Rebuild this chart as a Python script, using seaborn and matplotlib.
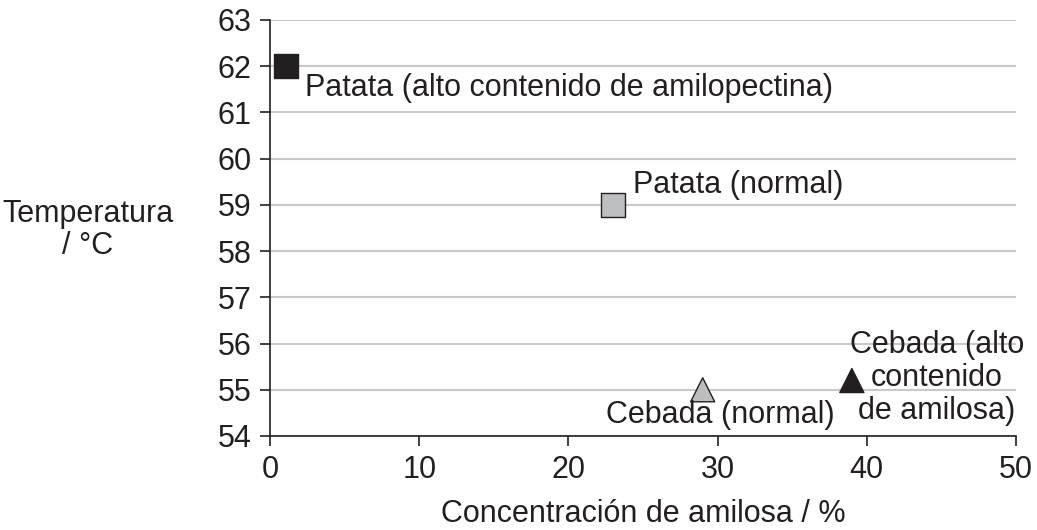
import pandas as pd
import matplotlib.pyplot as plt
import seaborn as sns

# ==========================
# DATA
# ==========================
muestras = ["Patata alto", "Patata normal", "Cebada normal", "Cebada alto"]
amilosa = [1.1, 23, 29, 39]
temperatura = [62, 59, 55, 55.2]
etiquetas = [
    "Patata (alto contenido de amilopectina)",
    "Patata (normal)",
    "Cebada (normal)",
    "Cebada (alto\ncontenido\nde amilosa)",
]
etiqueta_x = [2.35, 24.3, 30.2, 44.7]
etiqueta_y = [61.53, 59.43, 54.45, 55.25]
etiqueta_ha = ["left", "left", "center", "center"]

df = pd.DataFrame({"Muestra": muestras, "Amilosa": amilosa, "Temperatura": temperatura})

# ==========================
# PLOT
# ==========================
sns.set_style("white")
plt.rcParams["font.family"] = ["Liberation Sans", "DejaVu Sans"]

fig = plt.figure(figsize=(10.37, 5.30), dpi=100)
ax = fig.add_axes([0.2604, 0.1774, 0.7193, 0.7849])

colores = {
    "Patata alto": "#231f20",
    "Patata normal": "#bcbec0",
    "Cebada normal": "#bcbec0",
    "Cebada alto": "#231f20",
}
marcadores = {
    "Patata alto": "s",
    "Patata normal": "s",
    "Cebada normal": "^",
    "Cebada alto": "^",
}

sns.scatterplot(
    data=df, x="Amilosa", y="Temperatura",
    hue="Muestra", style="Muestra",
    palette=colores, markers=marcadores,
    s=300, edgecolor="#231f20", linewidth=1,
    legend=False, ax=ax, zorder=3, clip_on=False
)

for txt, tx, ty, ha in zip(etiquetas, etiqueta_x, etiqueta_y, etiqueta_ha):
    ax.text(tx, ty, txt, ha=ha, va="center", fontsize=22,
            color="#231f20", linespacing=1.12, zorder=4)

ax.set_xlim(0, 50)
ax.set_ylim(54, 63)
ax.set_xticks(range(0, 51, 10))
ax.set_yticks(range(54, 64))
ax.yaxis.grid(True, color="#c8c8c8", linewidth=1.5)
ax.xaxis.grid(False)
ax.set_axisbelow(True)

for s in ["top", "right"]:
    ax.spines[s].set_visible(False)
for s in ["left", "bottom"]:
    ax.spines[s].set_color("#231f20")
    ax.spines[s].set_linewidth(1.2)

ax.tick_params(axis="both", which="major", direction="out", length=7.5,
               width=1.2, color="#231f20", labelsize=22,
               labelcolor="#231f20", bottom=True, left=True, pad=6)

ax.set_xlabel("Concentración de amilosa / %", fontsize=22, color="#231f20", labelpad=10)
ax.set_ylabel("")
fig.text(88 / 1037, 1 - 230 / 530, "Temperatura\n/ °C", ha="center", va="center",
         fontsize=22, color="#231f20", linespacing=1.12)

plt.savefig("out.png", dpi=100)
